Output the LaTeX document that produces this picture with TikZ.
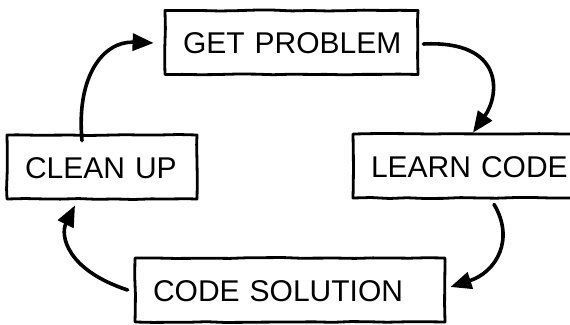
\documentclass[tikz,border=0pt]{standalone}
\usepackage{fontspec}
\setmainfont{Liberation Sans}
\usetikzlibrary{arrows.meta,decorations.pathmorphing}
\begin{document}
\begin{tikzpicture}[x=1pt,y=-1pt,
  stagebox/.style={draw=black, line width=2.8pt, line join=round,
    decorate, decoration={random steps, segment length=18pt, amplitude=0.5pt},
    minimum height=64pt, inner xsep=18pt, inner ysep=0pt, align=left,
    font=\fontsize{30}{30}\selectfont, text height=22pt, text depth=0pt},
  flow/.style={draw=black, line width=3.6pt, line cap=round,
    -{Triangle[length=21pt,width=17pt]}}]
\useasboundingbox (0,0) rectangle (570,324);
\pgfmathsetseed{7}

% the four stages of the cycle
\node[stagebox, text width=217pt] (gp) at (291.5,42.5) {\mbox{GET PROBLEM}};
\node[stagebox, text width=186pt] (lc) at (464,166) {\mbox{LEARN CODE}};
\node[stagebox, text width=274pt] (cs) at (290,290) {\mbox{CODE SOLUTION}};
\node[stagebox, text width=154pt] (cu) at (102,167) {\mbox{CLEAN UP}};

% curved arrows running clockwise between the stages
\draw[flow] ([xshift=4pt,yshift=-1.5pt]gp.east)
  .. controls +(81,-4) and +(27,-38) .. ([xshift=9pt]lc.north);
\draw[flow] ([xshift=30pt,yshift=-5pt]lc.south)
  .. controls +(21,35) and +(46,-15) .. ([xshift=4pt,yshift=3pt]cs.east);
\draw[flow] ([xshift=-6pt]cs.west)
  .. controls +(-61,-20) and +(-15,30) .. ([xshift=-27pt,yshift=-5pt]cu.south);
\draw[flow] ([xshift=-20pt,yshift=-7pt]cu.north)
  .. controls +(-6,-65) and +(-50,-2) .. ([xshift=-10pt,yshift=-0.5pt]gp.west);
\end{tikzpicture}
\end{document}
